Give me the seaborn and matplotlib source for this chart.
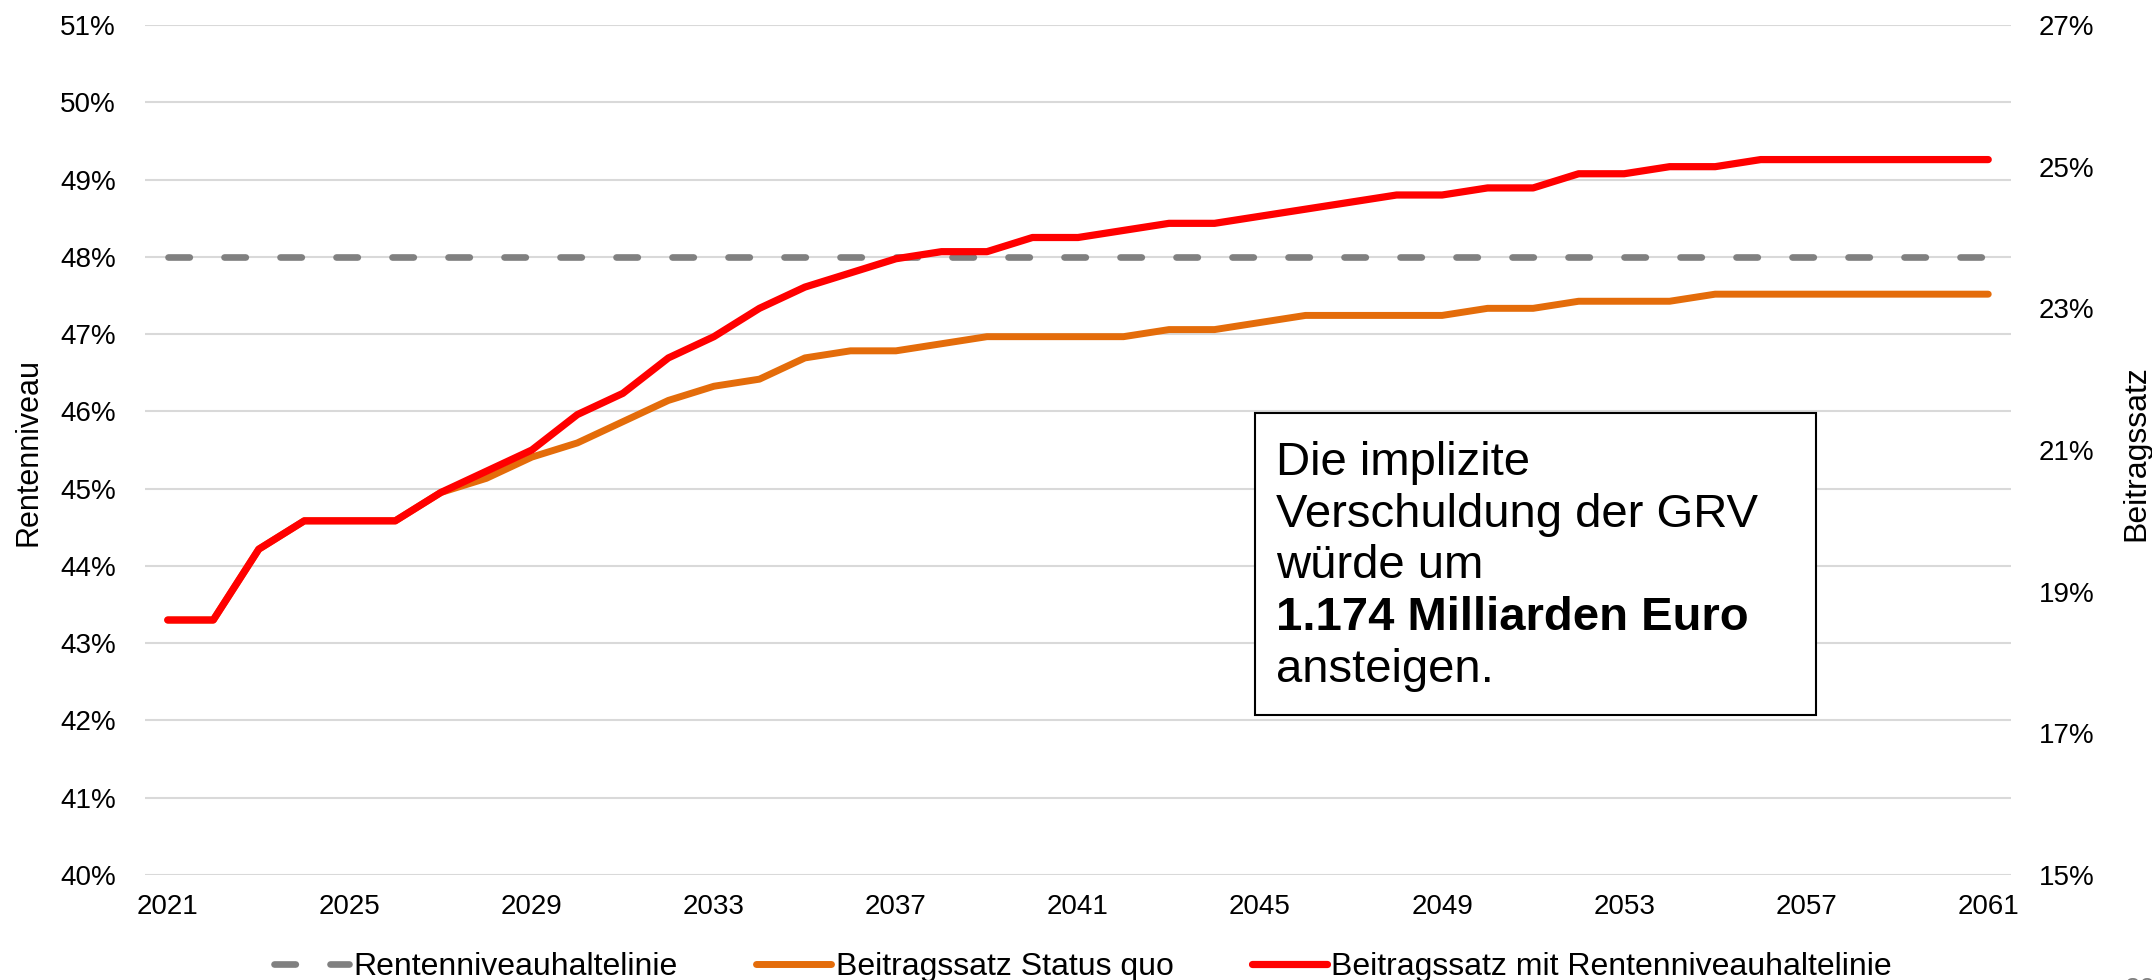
import pandas as pd
import matplotlib.pyplot as plt
import seaborn as sns
from matplotlib.patches import Rectangle
from matplotlib.ticker import FuncFormatter

# Data
jahre = list(range(2021, 2062))
rentenniveau_haltelinie = [48.0] * 41
beitrag_status_quo = [18.6, 18.6, 19.6, 20.0, 20.0, 20.0, 20.4, 20.6, 20.9, 21.1,
                      21.4, 21.7, 21.9, 22.0, 22.3, 22.4, 22.4, 22.5, 22.6, 22.6,
                      22.6, 22.6, 22.7, 22.7, 22.8, 22.9, 22.9, 22.9, 22.9, 23.0,
                      23.0, 23.1, 23.1, 23.1, 23.2, 23.2, 23.2, 23.2, 23.2, 23.2,
                      23.2]
beitrag_mit_haltelinie = [18.6, 18.6, 19.6, 20.0, 20.0, 20.0, 20.4, 20.7, 21.0, 21.5,
                          21.8, 22.3, 22.6, 23.0, 23.3, 23.5, 23.7, 23.8, 23.8, 24.0,
                          24.0, 24.1, 24.2, 24.2, 24.3, 24.4, 24.5, 24.6, 24.6, 24.7,
                          24.7, 24.9, 24.9, 25.0, 25.0, 25.1, 25.1, 25.1, 25.1, 25.1,
                          25.1]
legend_labels = ["Rentenniveauhaltelinie", "Beitragssatz Status quo",
                 "Beitragssatz mit Rentenniveauhaltelinie"]
box_lines = ["Die implizite", "Verschuldung der GRV", "würde um",
             "1.174 Milliarden Euro", "ansteigen."]

df = pd.DataFrame({"Jahr": jahre,
                   "Rentenniveau": rentenniveau_haltelinie,
                   "StatusQuo": beitrag_status_quo,
                   "MitHaltelinie": beitrag_mit_haltelinie})

sns.set_theme(style="white")
plt.rcParams['font.family'] = ['Liberation Sans', 'DejaVu Sans']
plt.rcParams['text.color'] = 'black'

W, H = 2152, 980
fig = plt.figure(figsize=(W / 100, H / 100), dpi=100)
ax = fig.add_axes([145 / W, 1 - 875 / H, 1866 / W, 850 / H])
ax2 = ax.twinx()

pct = FuncFormatter(lambda v, p: f"{v:.0f}%")

# left axis: Rentenniveau
sns.lineplot(data=df, x="Jahr", y="Rentenniveau", ax=ax, color="#808080", lw=4.8,
             linestyle=(0, (3.2, 5.2)), dash_capstyle="round",
             label=legend_labels[0], legend=False)
ax.set_ylim(40, 51)
ax.set_yticks(range(40, 52))
ax.yaxis.set_major_formatter(pct)
ax.set_xlim(2020.5, 2061.5)
ax.set_xticks(range(2021, 2062, 4))
ax.yaxis.grid(True, color="#d9d9d9", lw=1.5)
ax.xaxis.grid(False)
ax.tick_params(axis="y", labelsize=20, pad=21, length=0, colors="black")
ax.tick_params(axis="x", labelsize=20, pad=14, length=0, colors="black")
ax.set_xlabel("")
ax.set_ylabel("")

# right axis: Beitragssatz
sns.lineplot(data=df, x="Jahr", y="StatusQuo", ax=ax2, color="#E46C0A", lw=5,
             solid_capstyle="round", label=legend_labels[1], legend=False)
sns.lineplot(data=df, x="Jahr", y="MitHaltelinie", ax=ax2, color="#FF0000", lw=5.2,
             solid_capstyle="round", label=legend_labels[2], legend=False)
ax2.set_ylim(15, 27)
ax2.set_yticks(range(15, 28, 2))
ax2.yaxis.set_major_formatter(pct)
ax2.grid(False)
ax2.tick_params(axis="y", labelsize=20, pad=20, length=0, colors="black")
ax2.set_ylabel("")

for a in (ax, ax2):
    for s in a.spines.values():
        s.set_visible(False)

fig.text(29 / W, 1 - 452 / H, "Rentenniveau", rotation=90, ha="center", va="center",
         fontsize=22, color="black")
fig.text(2136 / W, 1 - 453 / H, "Beitragssatz", rotation=90, ha="center", va="center",
         fontsize=23, color="black")

# text box
fig.add_artist(Rectangle((1255 / W, 1 - 715 / H), 561 / W, 302.5 / H,
                         transform=fig.transFigure, facecolor="white",
                         edgecolor="black", lw=1.5))
baselines = [475, 526.7, 578.3, 630, 681.7]
for txt, yb in zip(box_lines, baselines):
    fig.text(1276 / W, 1 - yb / H, txt, fontsize=34, va="baseline", ha="left",
             color="black",
             fontweight="bold" if "Milliarden" in txt else "normal")

handles = ax.get_lines()[:1] + ax2.get_lines()[:2]
fig.legend(handles, legend_labels, loc="center", bbox_to_anchor=(1083 / W, 13 / H),
           ncol=3, frameon=False, fontsize=23, handlelength=2.34, handletextpad=0.15,
           columnspacing=2.45, borderpad=0, borderaxespad=0, labelcolor="black")

fig.text(2125 / W, 3 / H, "20", fontsize=20, color="#7f7f7f", va="top", ha="left")

fig.savefig("out.png", dpi=100)
